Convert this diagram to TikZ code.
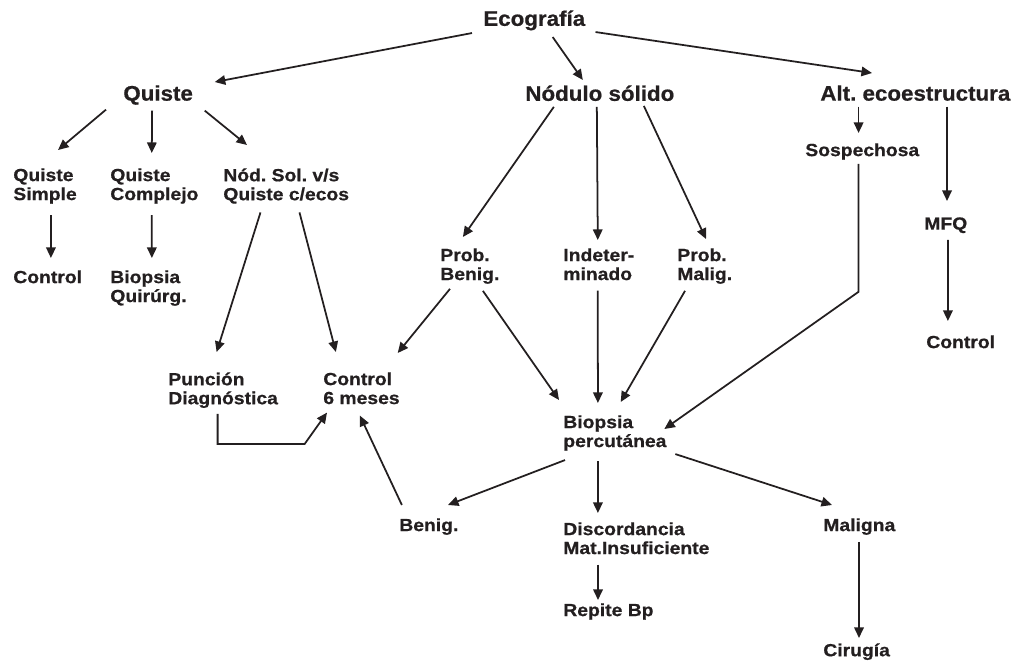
\documentclass[tikz,border=0pt]{standalone}
\usepackage{fontspec}
\newfontfamily\labelfont{Liberation Sans}[FakeStretch=1.1, FakeBold=0.7]
\newfontfamily\headfont{Liberation Sans}[FakeStretch=1.06, FakeBold=0.7]
\usepackage{tikz}
\usetikzlibrary{positioning, arrows.meta, calc}
\definecolor{ink}{HTML}{231F20}
\frenchspacing

\begin{document}
\begin{tikzpicture}[
  x=0.02cm, y=-0.02cm,
  head/.style={inner sep=0pt, anchor=north west, text=ink,
    font=\headfont\bfseries\fontsize{12}{14}\selectfont},
  item/.style={inner sep=0pt, anchor=north west, align=left, text=ink,
    font=\labelfont\bfseries\fontsize{10}{10.8}\selectfont},
  arr/.style={-{Triangle[length=6pt, width=5.4pt]}, line width=1pt, ink},
]
  \useasboundingbox (0,0) rectangle (1018,664);

  % Top level
  \node[head] (eco)    at (483,10)  {Ecografía};
  \node[head] (quiste) at (123,85)  {Quiste};
  \node[head] (nodulo) at (525,85)  {Nódulo sólido};
  \node[head] (alt)    at (820,85)  {Alt. ecoestructura};

  % Quiste branch
  \node[item] (qsimple)   at (13,168)  {Quiste\\Simple};
  \node[item] (qcomplejo) at (110,168) {Quiste\\Complejo};
  \node[item] (nodsol)    at (223,168) {Nód. Sol. v/s\\Quiste c/ecos};
  \node[item] (control1)  at (13,270)  {Control};
  \node[item] (biopsiaq)  at (110,270) {Biopsia\\Quirúrg.};
  \node[item] (puncion)   at (168,372) {Punción\\Diagnóstica};
  \node[item] (control6)  at (323,372) {Control\\6 meses};

  % Nodulo branch
  \node[item] (probbenig) at (440,248) {Prob.\\Benig.};
  \node[item] (indet)     at (563,248) {Indeter-\\minado};
  \node[item] (probmalig) at (677,248) {Prob.\\Malig.};
  \node[item] (biopsiap)  at (563,415) {Biopsia\\percutánea};
  \node[item] (benig)     at (399,518) {Benig.};
  \node[item] (discord)   at (563,522) {Discordancia\\Mat.Insuficiente};
  \node[item] (maligna)   at (823,518) {Maligna};
  \node[item] (repite)    at (563,603) {Repite Bp};
  \node[item] (cirugia)   at (823,643) {Cirugía};

  % Alt. ecoestructura branch
  \node[item] (sosp)     at (805,143) {Sospechosa};
  \node[item] (mfq)      at (924,217) {MFQ};
  \node[item] (control2) at (926,335) {Control};

  % Arrows from Ecografia
  \draw[arr] ($(eco.south west)+(-11,2.4)$) -- ($(quiste.north east)+(21.5,-3)$);
  \draw[arr] ($(eco.south)+(18.4,6.4)$) -- ($(nodulo.north)+(-17,-5)$);
  \draw[arr] ($(eco.south east)+(10,1.4)$) -- ($(alt.north west)+(52,-12)$);

  % Quiste
  \draw[arr] ($(quiste.south west)+(-17,4.5)$) -- ($(qsimple.north)+(13,-18)$);
  \draw[arr] ($(quiste.south)+(-6,5.5)$) -- ($(qcomplejo.north)+(-2.6,-15)$);
  \draw[arr] ($(quiste.south east)+(11.5,5.5)$) -- ($(nodsol.north west)+(24,-23)$);
  \draw[arr] ($(qsimple.south)+(6,11)$) -- ($(control1.north)+(3.2,-12)$);
  \draw[arr] ($(qcomplejo.south)+(-2.6,11)$) -- ($(biopsiaq.north)+(3.4,-12)$);
  \draw[arr] ($(nodsol.south)+(-25.7,8.4)$) -- ($(puncion.north)+(-6.5,-20)$);
  \draw[arr] ($(nodsol.south)+(13.3,8.4)$) -- ($(control6.north)+(-25.6,-20)$);
  \draw[arr] ($(puncion.south)+(-5.5,5.7)$) -- ++(0,30) -- ++(87,0)
    -- ($(control6.south west)+(4,8)$);
  \draw[arr] ($(benig.north)+(-27,-13)$) -- ($(control6.south)+(-1.6,11)$);

  % Nodulo solido
  \draw[arr] ($(nodulo.south)+(-46,5.5)$) -- ($(probbenig.north)+(-7,-11)$);
  \draw[arr] ($(nodulo.south)+(-3,5.5)$) -- ($(indet.north)+(-1,-8)$);
  \draw[arr] ($(nodulo.south)+(44,4.5)$) -- ($(probmalig.north)+(1.3,-9)$);
  \draw[arr] ($(probbenig.south west)+(10,4.7)$) -- ($(control6.north east)+(-2.3,-19)$);
  \draw[arr] ($(probbenig.south)+(13,6.7)$) -- ($(biopsiap.north west)+(-4,-15)$);
  \draw[arr] ($(indet.south)+(-1,10)$) -- ($(biopsiap.north)+(-17,-12)$);
  \draw[arr] ($(probmalig.south)+(-19.7,6.7)$) -- ($(biopsiap.north)+(5.8,-13)$);
  \draw[arr] ($(biopsiap.south west)+(2,9)$) -- ($(benig.north east)+(-10.8,-13)$);
  \draw[arr] ($(biopsiap.south)+(-17,10)$) -- ($(biopsiap.south |- discord.north)+(-17,-9)$);
  \draw[arr] ($(biopsiap.south east)+(8.5,3)$) -- ($(maligna.north west)+(9,-13)$);
  \draw[arr] ($(discord.south west)+(35,10)$) -- ($(repite.north west)+(35,-3)$);
  \draw[arr] ($(maligna.south west)+(36,6.7)$) -- ($(cirugia.north west)+(36,-5)$);

  % Alt. ecoestructura
  \draw[arr] ($(sosp.north |- alt.south)+(-3.7,5.5)$) -- ($(sosp.north)+(-3.7,-10)$);
  \draw[arr] ($(sosp.south)+(-3.7,3.7)$) -- ++(0,128) -- ($(biopsiap.east)+(-2.5,-4)$);
  \draw[arr] ($(mfq.north |- alt.south)+(1.2,5.5)$) -- ($(mfq.north)+(1.2,-16)$);
  \draw[arr] ($(mfq.south)+(2.2,6.5)$) -- ($(control2.north)+(-12.8,-14)$);
\end{tikzpicture}
\end{document}
